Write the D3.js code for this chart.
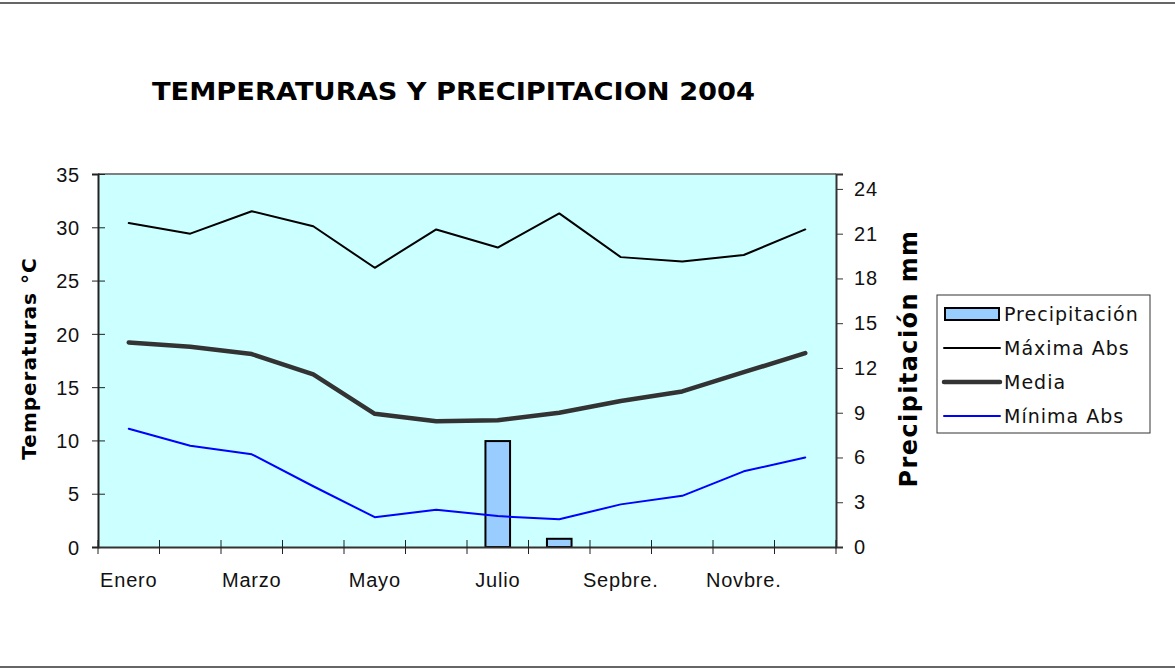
<!doctype html>
<html lang="es">
<head>
    <meta charset="UTF-8">
    <title>Temperaturas y precipitacion 2004</title>
    <style>
        html, body { margin: 0; padding: 0; background: #fff; }
        svg { display: block; font-family: "DejaVu Sans", Verdana, sans-serif; }
        .tick text { font-size: 20px; letter-spacing: 0.8px; fill: #111; }
        .legend text { font-size: 19px; letter-spacing: 1px; fill: #111; }
    </style>
</head>
<body>
<svg id="chart" width="1175" height="669"></svg>

<script src="https://cdn.jsdelivr.net/npm/d3@7"></script>
<script>
  // datos
  const months = ['Enero', 'Febrero', 'Marzo', 'Abril', 'Mayo', 'Junio', 'Julio', 'Agosto', 'Septiembre', 'Octubre', 'Noviembre', 'Diciembre']
  const monthLabels = ['Enero', '', 'Marzo', '', 'Mayo', '', 'Julio', '', 'Sepbre.', '', 'Novbre.', '']
  const maxima = [30.4, 29.4, 31.5, 30.1, 26.2, 29.8, 28.1, 31.3, 27.2, 26.8, 27.4, 29.8]
  const media = [19.2, 18.8, 18.1, 16.2, 12.5, 11.8, 11.9, 12.6, 13.7, 14.6, 16.4, 18.2]
  const minima = [11.1, 9.5, 8.7, 5.7, 2.8, 3.5, 2.9, 2.6, 4.0, 4.8, 7.1, 8.4]
  const precip = [0, 0, 0, 0, 0, 0, 7.1, 0.55, 0, 0, 0, 0]
  const tempTicks = [0, 5, 10, 15, 20, 25, 30, 35]
  const precipTicks = [0, 3, 6, 9, 12, 15, 18, 21, 24]

  const W = 1175, H = 669
  const plot = { left: 98, top: 174, width: 738, height: 373 }

  const svg = d3.select('#chart')

  // lineas del marco
  svg.append('line').attr('x1', 0).attr('x2', W).attr('y1', 3).attr('y2', 3)
    .attr('stroke', '#333').attr('stroke-width', 1.5)
  svg.append('line').attr('x1', 0).attr('x2', W).attr('y1', H - 2).attr('y2', H - 2)
    .attr('stroke', '#333').attr('stroke-width', 1.5)

  svg.append('text')
    .attr('x', 152).attr('y', 100)
    .attr('font-size', 25).attr('font-weight', 'bold')
    .attr('textLength', 603).attr('lengthAdjust', 'spacingAndGlyphs')
    .text('TEMPERATURAS Y PRECIPITACION 2004')

  const x = d3.scaleBand().domain(months).range([0, plot.width]).padding(0)
  const y = d3.scaleLinear().domain([0, 35]).range([plot.height, 0])
  const y2 = d3.scaleLinear().domain([0, 25]).range([plot.height, 0])

  const g = svg.append('g').attr('transform', `translate(${plot.left},${plot.top})`)

  g.append('rect')
    .attr('width', plot.width).attr('height', plot.height)
    .attr('fill', '#ccffff')
  g.append('line').attr('x1', 0).attr('x2', plot.width).attr('y1', 0).attr('y2', 0)
    .attr('stroke', '#808080').attr('stroke-width', 2)

  // barras de precipitacion
  const barW = x.bandwidth() * 0.4
  g.selectAll('.bar')
    .data(months.map((m, i) => ({ m, v: precip[i] })).filter(d => d.v > 0))
    .join('rect')
    .attr('class', 'bar')
    .attr('x', d => x(d.m) + (x.bandwidth() - barW) / 2)
    .attr('y', d => y2(d.v))
    .attr('width', barW)
    .attr('height', d => y2(0) - y2(d.v))
    .attr('fill', '#99ccff')
    .attr('stroke', '#000')
    .attr('stroke-width', 2)

  const line = d3.line()
    .x((d, i) => x(months[i]) + x.bandwidth() / 2)
    .y(d => y(d))

  const series = [
    { name: 'Máxima Abs', data: maxima, color: '#000', width: 2 },
    { name: 'Media', data: media, color: '#333', width: 4.5 },
    { name: 'Mínima Abs', data: minima, color: '#0000ff', width: 2 }
  ]

  series.forEach(s => {
    g.append('path')
      .attr('d', line(s.data))
      .attr('fill', 'none')
      .attr('stroke', s.color)
      .attr('stroke-width', s.width)
      .attr('stroke-linejoin', 'round')
      .attr('stroke-linecap', 'round')
  })

  // eje izquierdo
  const yAxis = g.append('g')
    .call(d3.axisLeft(y).tickValues(tempTicks).tickSize(6).tickPadding(12))
  yAxis.select('.domain').attr('stroke', '#222').attr('stroke-width', 2)
  yAxis.selectAll('.tick line').attr('x1', 7).attr('x2', -6).attr('stroke', '#222')
  yAxis.selectAll('text').attr('dy', '0.36em')

  // eje derecho
  const y2Axis = g.append('g')
    .attr('transform', `translate(${plot.width},0)`)
    .call(d3.axisRight(y2).tickValues(precipTicks).tickSize(7).tickPadding(11))
  y2Axis.select('.domain').attr('stroke', '#333').attr('stroke-width', 2)
  y2Axis.selectAll('.tick line').attr('stroke', '#333')

  // eje inferior
  const xAxis = g.append('g')
    .attr('transform', `translate(0,${plot.height})`)
    .call(d3.axisBottom(x).tickSize(0).tickPadding(26).tickFormat((d, i) => monthLabels[i]))
  xAxis.select('.domain').attr('stroke', '#333').attr('stroke-width', 2)
  xAxis.selectAll('.sep')
    .data(months.map(m => x(m)).concat([plot.width]))
    .join('line')
    .attr('class', 'sep')
    .attr('x1', d => d).attr('x2', d => d)
    .attr('y1', -7).attr('y2', 7)
    .attr('stroke', '#222')

  // titulos de ejes
  svg.append('text')
    .attr('transform', `translate(36,${plot.top + plot.height / 2 - 2}) rotate(-90)`)
    .attr('text-anchor', 'middle')
    .attr('font-size', 20).attr('font-weight', 'bold')
    .attr('letter-spacing', 1)
    .text('Temperaturas °C')

  svg.append('text')
    .attr('transform', `translate(917,${plot.top + plot.height / 2 - 2}) rotate(-90)`)
    .attr('text-anchor', 'middle')
    .attr('font-size', 24).attr('font-weight', 'bold')
    .attr('letter-spacing', 1.4)
    .text('Precipitación mm')

  // leyenda
  const legend = svg.append('g').attr('class', 'legend').attr('transform', 'translate(937,295)')
  legend.append('rect')
    .attr('width', 213).attr('height', 138)
    .attr('fill', '#fff').attr('stroke', '#333').attr('stroke-width', 1)

  const legendItems = [{ name: 'Precipitación', bar: true }].concat(series)
  legendItems.forEach((d, i) => {
    const row = legend.append('g').attr('transform', `translate(0,${19 + i * 34})`)
    if (d.bar) {
      row.append('rect')
        .attr('x', 8).attr('y', -6).attr('width', 54).attr('height', 12)
        .attr('fill', '#99ccff').attr('stroke', '#000').attr('stroke-width', 2)
    } else {
      row.append('line')
        .attr('x1', 7).attr('x2', 63)
        .attr('stroke', d.color).attr('stroke-width', d.width)
        .attr('stroke-linecap', 'round')
    }
    row.append('text')
      .attr('x', 67).attr('dy', '0.36em')
      .text(d.name)
  })
</script>
</body>
</html>
